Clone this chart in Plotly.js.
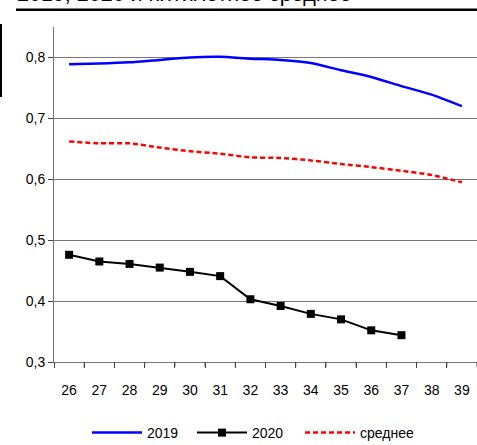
<!DOCTYPE html>
<html>
<head>
<meta charset="utf-8">
<script src="https://cdn.plot.ly/plotly-3.0.1.min.js"></script>
<style>
html,body{margin:0;padding:0;background:#fff;}
#chart{width:477px;height:445px;}
</style>
</head>
<body>
<div id="chart"></div>
<script>
const weeks = [26,27,28,29,30,31,32,33,34,35,36,37,38,39];
const values2019 = [0.789,0.790,0.792,0.796,0.800,0.801,0.798,0.796,0.791,0.779,0.768,0.753,0.739,0.720];
const weeks2020 = [26,27,28,29,30,31,32,33,34,35,36,37];
const values2020 = [0.476,0.465,0.461,0.455,0.448,0.441,0.403,0.392,0.379,0.370,0.352,0.344];
const valuesAvg = [0.662,0.659,0.659,0.652,0.646,0.642,0.636,0.635,0.631,0.625,0.620,0.614,0.607,0.595];
const yTickVals = [0.3,0.4,0.5,0.6,0.7,0.8];
const yTickText = ['0,3','0,4','0,5','0,6','0,7','0,8'];
const seriesNames = ['2019','2020','среднее'];
const titleText = '2019, 2020 и пятилетнее среднее';

const fam = '"Liberation Sans", Arial, sans-serif';
const boundaries = weeks.map(w => w - 0.5).concat([weeks[weeks.length - 1] + 0.5]);
const xRange = [weeks[0] - 0.5, weeks[weeks.length - 1] + 0.5];

const traces = [
  {x: weeks, y: values2019, name: seriesNames[0], type: 'scatter', mode: 'lines', legend: 'legend',
   line: {color: '#0000ff', width: 2.5, shape: 'spline', smoothing: 0.6}},
  {x: weeks2020, y: values2020, name: seriesNames[1], type: 'scatter', mode: 'lines+markers', legend: 'legend',
   line: {color: '#000000', width: 2}, marker: {symbol: 'square', size: 8, color: '#000000'}},
  {x: weeks, y: valuesAvg, name: seriesNames[2], type: 'scatter', mode: 'lines', xaxis: 'x2', legend: 'legend2',
   line: {color: '#ff0000', width: 2.5, dash: '5px,3px', shape: 'spline', smoothing: 0.6}}
];

const legendCommon = {orientation: 'h', xref: 'paper', xanchor: 'left',
  yref: 'container', y: 1 - 433/445, yanchor: 'middle', itemwidth: 50,
  font: {family: fam, size: 14, color: '#000'}, tracegroupgap: 0};

// category-boundary tick marks, placed through the x axis scale
const tickShapes = boundaries.map(b => ({type: 'line', xref: 'x', yref: 'paper',
  x0: b, x1: b, y0: 0, y1: -5/335, line: {color: '#444', width: 1}}));

const layout = {
  width: 477, height: 445,
  margin: {l: 54, r: 0, t: 27, b: 83},
  paper_bgcolor: '#ffffff', plot_bgcolor: '#ffffff',
  font: {family: fam, size: 14, color: '#000000'},
  showlegend: true,
  legend: Object.assign({}, legendCommon, {x: (87-54)/423, entrywidth: 40}),
  legend2: Object.assign({}, legendCommon, {x: (300-54)/423}),
  xaxis: {range: xRange, tickmode: 'array', tickvals: boundaries, ticktext: boundaries.map(() => ''),
    ticks: 'outside', ticklen: 5, tickwidth: 1, tickcolor: '#444', showgrid: false,
    showline: true, linecolor: '#777', linewidth: 1, zeroline: false, fixedrange: true},
  xaxis2: {range: xRange, overlaying: 'x', anchor: 'y', side: 'bottom', tickmode: 'array', tickvals: weeks,
    ticks: 'outside', ticklen: 15, tickcolor: 'rgba(255,255,255,0)', showgrid: false,
    showline: false, zeroline: false, fixedrange: true,
    tickfont: {family: fam, size: 14, color: '#000'}},
  yaxis: {range: [0.3, 0.85], tickvals: yTickVals, ticktext: yTickText,
    ticks: 'outside', ticklen: 5, tickcolor: '#444',
    showgrid: true, gridcolor: '#777', gridwidth: 1,
    showline: true, linecolor: '#777', linewidth: 1, zeroline: false,
    tickfont: {family: fam, size: 14, color: '#000'}, fixedrange: true},
  annotations: [
    {text: titleText, xref: 'paper', yref: 'paper', x: (16-54)/423, y: (362-7.5)/335,
     xanchor: 'left', yanchor: 'bottom', showarrow: false,
     font: {family: fam, size: 21.5, color: '#000'}, borderpad: 0}
  ],
  shapes: [
    {type: 'line', xref: 'paper', yref: 'paper', x0: (16-54)/423, x1: 1.01, y0: (362-9.7)/335, y1: (362-9.7)/335,
     line: {color: '#000', width: 2.5}},
    {type: 'line', xref: 'paper', yref: 'paper', x0: (1-54)/423, x1: (1-54)/423, y0: (362-24)/335, y1: (362-97)/335,
     line: {color: '#000', width: 2}}
  ].concat(tickShapes)
};

Plotly.newPlot('chart', traces, layout, {displayModeBar: false, staticPlot: true});
</script>
</body>
</html>
